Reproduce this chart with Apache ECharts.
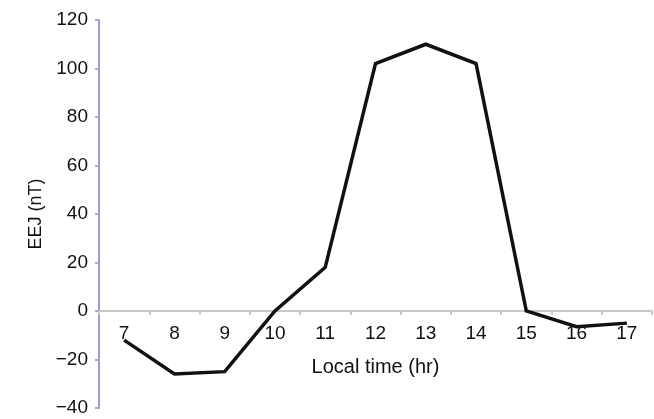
<!DOCTYPE html>
<html>
<head>
<meta charset="utf-8">
<script src="https://cdn.jsdelivr.net/npm/echarts@6/dist/echarts.min.js"></script>
<style>
  html, body { margin: 0; padding: 0; background: #fff; }
  #chart { width: 654px; height: 419px; }
</style>
</head>
<body>
<div id="chart"></div>
<script>
// Local time in hours
const hours = ['7', '8', '9', '10', '11', '12', '13', '14', '15', '16', '17'];
// Equatorial electrojet strength (nT)
const eej = [-12, -26, -25, 0, 18, 102, 110, 102, 0, -6.5, -5];
// Y axis range and step
const yMin = -40, yMax = 120, yStep = 20;

const W = 654, H = 419;
const gridTop = 20, gridBottom = 11;
const plotH = H - gridTop - gridBottom;
// lift the category axis (line, ticks, labels, name) up to the y = 0 level
const zeroLift = (0 - yMin) / (yMax - yMin) * plotH;

const font = 'Liberation Sans, Arial, Helvetica, sans-serif';
const chart = echarts.init(document.getElementById('chart'));
chart.setOption({
  animation: false,
  grid: { left: 99, right: 2, top: gridTop, bottom: gridBottom, containLabel: false, outerBoundsMode: 'none' },
  xAxis: {
    type: 'category',
    data: hours,
    boundaryGap: true,
    position: 'bottom',
    offset: -zeroLift,
    name: 'Local time (hr)',
    nameLocation: 'middle',
    nameGap: 46,
    nameTextStyle: { fontFamily: font, fontSize: 20, color: '#111' },
    axisLine: { onZero: false, lineStyle: { color: '#c8c8c8', width: 2 } },
    axisTick: { show: true, inside: false, length: 4, lineStyle: { color: '#c8c8c8', width: 2 } },
    axisLabel: { fontFamily: font, fontSize: 19, color: '#111', margin: 13 },
    splitLine: { show: false }
  },
  yAxis: {
    type: 'value',
    min: yMin,
    max: yMax,
    interval: yStep,
    name: 'EEJ (nT)',
    nameLocation: 'middle',
    nameGap: 54,
    nameRotate: 90,
    nameTextStyle: { fontFamily: font, fontSize: 18, color: '#111' },
    axisLine: { show: true, lineStyle: { color: '#a398cf', width: 2 } },
    axisTick: { show: true, length: 4, lineStyle: { color: '#b0a8cc', width: 2 } },
    axisLabel: {
      fontFamily: font, fontSize: 19, color: '#111', margin: 11,
      formatter: v => String(v).replace('-', '\u2212')
    },
    splitLine: { show: false }
  },
  series: [{
    type: 'line',
    data: eej,
    showSymbol: false,
    symbol: 'none',
    z: 3,
    lineStyle: { color: '#111', width: 3.5, join: 'miter' }
  }]
});
</script>
</body>
</html>
